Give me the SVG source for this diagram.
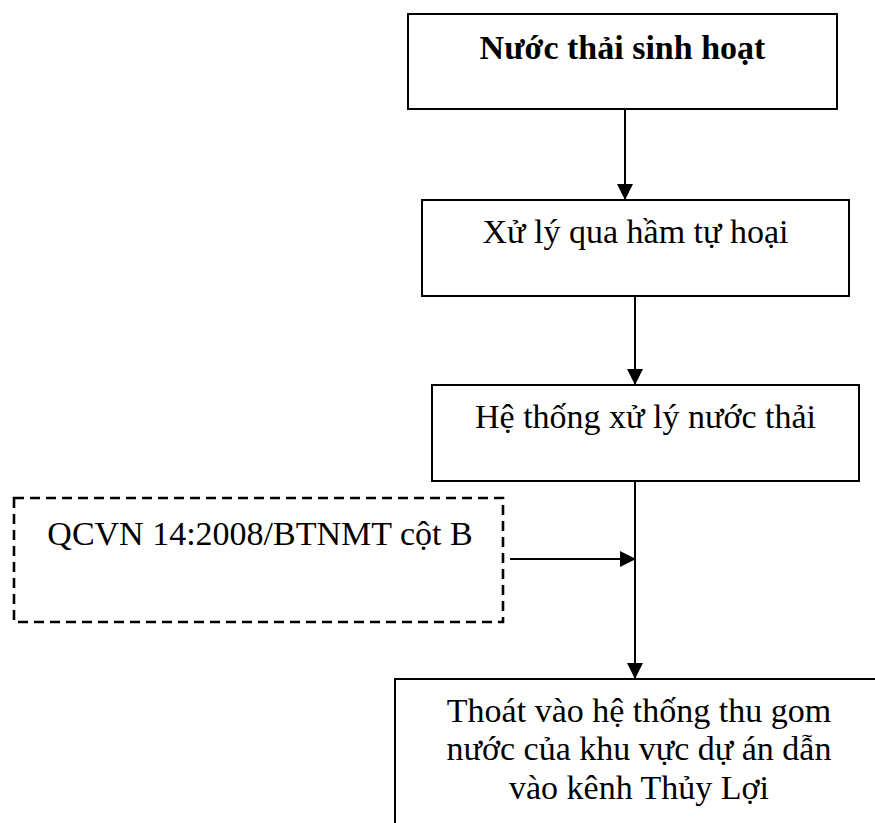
<svg xmlns="http://www.w3.org/2000/svg" width="875" height="823" viewBox="0 0 875 823">
<style>
.box{fill:#fff;stroke:#000;stroke-width:2}
.dash{fill:#fff;stroke:#000;stroke-width:2.6;stroke-dasharray:10 6}
.t{font-family:"Liberation Serif","Times New Roman",serif;font-size:34px;fill:#000;text-anchor:middle}
.b{font-weight:bold}
.c{stroke:#000;stroke-width:2;fill:none}
</style>
<defs>
<marker id="ah" viewBox="0 0 16 16" refX="16" refY="8" markerWidth="16" markerHeight="16" markerUnits="userSpaceOnUse" orient="auto">
<path d="M0,0 L16,8 L0,16 Z" fill="#000"/>
</marker>
</defs>
<rect width="875" height="823" fill="#fff"/>
<g id="connectors">
<line class="c" x1="625" y1="109" x2="625" y2="200" marker-end="url(#ah)"/>
<line class="c" x1="635" y1="296" x2="635" y2="385" marker-end="url(#ah)"/>
<line class="c" x1="635" y1="481" x2="635" y2="679" marker-end="url(#ah)"/>
<line class="c" x1="510" y1="559" x2="636" y2="559" marker-end="url(#ah)"/>
</g>
<g id="node1">
<rect class="box" x="408" y="14" width="429" height="95"/>
<text class="t b" x="622.5" y="59">Nước thải sinh hoạt</text>
</g>
<g id="node2">
<rect class="box" x="422" y="200" width="427" height="96"/>
<text class="t" x="635.5" y="243">Xử lý qua hầm tự hoại</text>
</g>
<g id="node3">
<rect class="box" x="432" y="385" width="427" height="96"/>
<text class="t" x="645.5" y="428">Hệ thống xử lý nước thải</text>
</g>
<g id="node4">
<rect class="dash" x="14" y="498" width="489" height="124"/>
<text class="t" x="260" y="545">QCVN 14:2008/BTNMT cột B</text>
</g>
<g id="node5">
<rect class="box" x="395" y="679" width="490" height="160"/>
<text class="t" x="639" y="722">Thoát vào hệ thống thu gom</text>
<text class="t" x="639" y="760">nước của khu vực dự án dẫn</text>
<text class="t" x="639" y="799">vào kênh Thủy Lợi</text>
</g>
</svg>
